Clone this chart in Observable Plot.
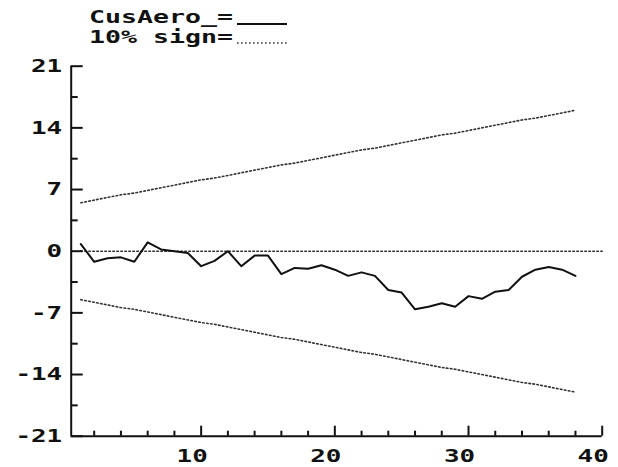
<!DOCTYPE html>
<html>
<head>
<meta charset="utf-8">
<script src="https://cdn.jsdelivr.net/npm/d3@7"></script>
<script src="https://cdn.jsdelivr.net/npm/@observablehq/plot@0.6"></script>
<style>
  body { margin: 0; background: #fff; }
  #legend { height: 52px; }
  #legend svg, #chart svg { display: block; }
</style>
</head>
<body>
<div id="legend"></div>
<div id="chart"></div>
<script>
// ---- data ----
const steps = [1,2,3,4,5,6,7,8,9,10,11,12,13,14,15,16,17,18,19,20,21,22,23,24,25,26,27,28,29,30,31,32,33,34,35,36,37,38];
const cusAero = [0.8,-1.2,-0.8,-0.7,-1.2,1.0,0.2,0.0,-0.2,-1.7,-1.1,0.0,-1.7,-0.5,-0.5,-2.6,-1.9,-2.0,-1.6,-2.1,-2.8,-2.4,-2.8,-4.4,-4.7,-6.6,-6.3,-5.9,-6.3,-5.1,-5.4,-4.6,-4.4,-2.9,-2.1,-1.8,-2.1,-2.8];
const upperBound = [5.5,5.8,6.1,6.4,6.6,6.9,7.2,7.5,7.8,8.1,8.3,8.6,8.9,9.2,9.5,9.8,10.0,10.3,10.6,10.9,11.2,11.5,11.7,12.0,12.3,12.6,12.9,13.2,13.4,13.7,14.0,14.3,14.6,14.9,15.1,15.4,15.7,16.0];
const lowerBound = [-5.5,-5.8,-6.1,-6.4,-6.6,-6.9,-7.2,-7.5,-7.8,-8.1,-8.3,-8.6,-8.9,-9.2,-9.5,-9.8,-10.0,-10.3,-10.6,-10.9,-11.2,-11.5,-11.7,-12.0,-12.3,-12.6,-12.9,-13.2,-13.4,-13.7,-14.0,-14.3,-14.6,-14.9,-15.1,-15.4,-15.7,-16.0];
const zeroLineX = [1, 40];
const xDomain = [0.28, 40];
const yDomain = [-21, 21];
const yMajorTicks = [-21,-14,-7,0,7,14,21];
const yMinorTicks = [-17.5,-10.5,-3.5,3.5,10.5,17.5];
const xMajorTicks = [10,20,30,40];
const xMinorTicks = [2,4,6,8,12,14,16,18,22,24,26,28,32,34,36,38];
const legendLabels = ["CusAero_=", "10% sign="];

// ---- tables built from the arrays ----
const cusRows = steps.map((t, i) => ({t, v: cusAero[i]}));
const upRows = steps.map((t, i) => ({t, v: upperBound[i]}));
const loRows = steps.map((t, i) => ({t, v: lowerBound[i]}));
const zeroRows = zeroLineX.map(t => ({t, v: 0}));

const FONT = "'DejaVu Sans Mono', 'Liberation Mono', monospace";
const INK = "#111";
const DOT = "#333";
const DASH = "1.6,2.4";

// ---- legend (above the plot) ----
const lg = d3.select("#legend").append("svg").attr("width", 618).attr("height", 52);
const legendRows = [
  {label: legendLabels[0], y: 23, dash: null, ly: 24},
  {label: legendLabels[1], y: 43, dash: DASH, ly: 43}
];
legendRows.forEach(r => {
  lg.append("text")
    .attr("x", 89).attr("y", r.y)
    .attr("font-family", FONT).attr("font-weight", "bold").attr("font-size", 17)
    .attr("fill", INK)
    .attr("textLength", 144).attr("lengthAdjust", "spacingAndGlyphs")
    .text(r.label);
  lg.append("line")
    .attr("x1", 237).attr("x2", 287).attr("y1", r.ly).attr("y2", r.ly)
    .attr("stroke", r.dash ? DOT : INK)
    .attr("stroke-width", r.dash ? 1.6 : 2)
    .attr("stroke-dasharray", r.dash);
});

// ---- plot ----
const W = 618, H = 415;
const mL = 70.7, mR = 16.3, mT = 13.7, mB = 31.3;
const frameW = W - mL - mR, frameH = H - mT - mB;

const chart = Plot.plot({
  width: W, height: H,
  marginLeft: mL, marginRight: mR, marginTop: mT, marginBottom: mB,
  x: {domain: xDomain, axis: null},
  y: {domain: yDomain, axis: null},
  style: {fontFamily: FONT, fontWeight: "bold", fontSize: "18.5px", color: INK, background: "#fff"},
  marks: [
    Plot.line(upRows, {x: "t", y: "v", stroke: DOT, strokeWidth: 1.6, strokeDasharray: DASH}),
    Plot.line(loRows, {x: "t", y: "v", stroke: DOT, strokeWidth: 1.6, strokeDasharray: DASH}),
    Plot.line(zeroRows, {x: "t", y: "v", stroke: DOT, strokeWidth: 1.6, strokeDasharray: DASH}),
    Plot.line(cusRows, {x: "t", y: "v", stroke: INK, strokeWidth: 2}),
    // axis lines
    Plot.ruleX([xDomain[0]], {stroke: INK, strokeWidth: 2}),
    Plot.ruleY([yDomain[0]], {stroke: INK, strokeWidth: 2}),
    // inward ticks
    Plot.tickY(yMajorTicks, {y: d => d, stroke: INK, strokeWidth: 2, insetRight: frameW - 12}),
    Plot.tickY(yMinorTicks, {y: d => d, stroke: INK, strokeWidth: 2, insetRight: frameW - 7}),
    Plot.tickX(xMajorTicks, {x: d => d, stroke: INK, strokeWidth: 2, insetTop: frameH - 10}),
    Plot.tickX(xMinorTicks, {x: d => d, stroke: INK, strokeWidth: 2, insetTop: frameH - 5}),
    // tick labels
    Plot.axisY(yMajorTicks, {tickSize: 0, tickPadding: 9, label: null, tickFormat: d => String(d), fill: INK, fontWeight: "bold", fontSize: 18.5}),
    Plot.axisX(xMajorTicks, {tickSize: 0, tickPadding: 13, label: null, tickFormat: d => String(d), fill: INK, fontWeight: "bold", fontSize: 18.5, dx: -9})
  ]
});
document.getElementById("chart").appendChild(chart);

// widen glyphs like the original bitmap font
d3.select(chart).selectAll("text").each(function() {
  const tr = this.getAttribute("transform");
  if (tr) {
    this.setAttribute("transform", tr + " scale(1.4,1)");
  } else {
    const x = +(this.getAttribute("x") || 0);
    const y = +(this.getAttribute("y") || 0);
    this.removeAttribute("x");
    this.removeAttribute("y");
    this.setAttribute("transform", `translate(${x},${y}) scale(1.4,1)`);
  }
});
</script>
</body>
</html>
